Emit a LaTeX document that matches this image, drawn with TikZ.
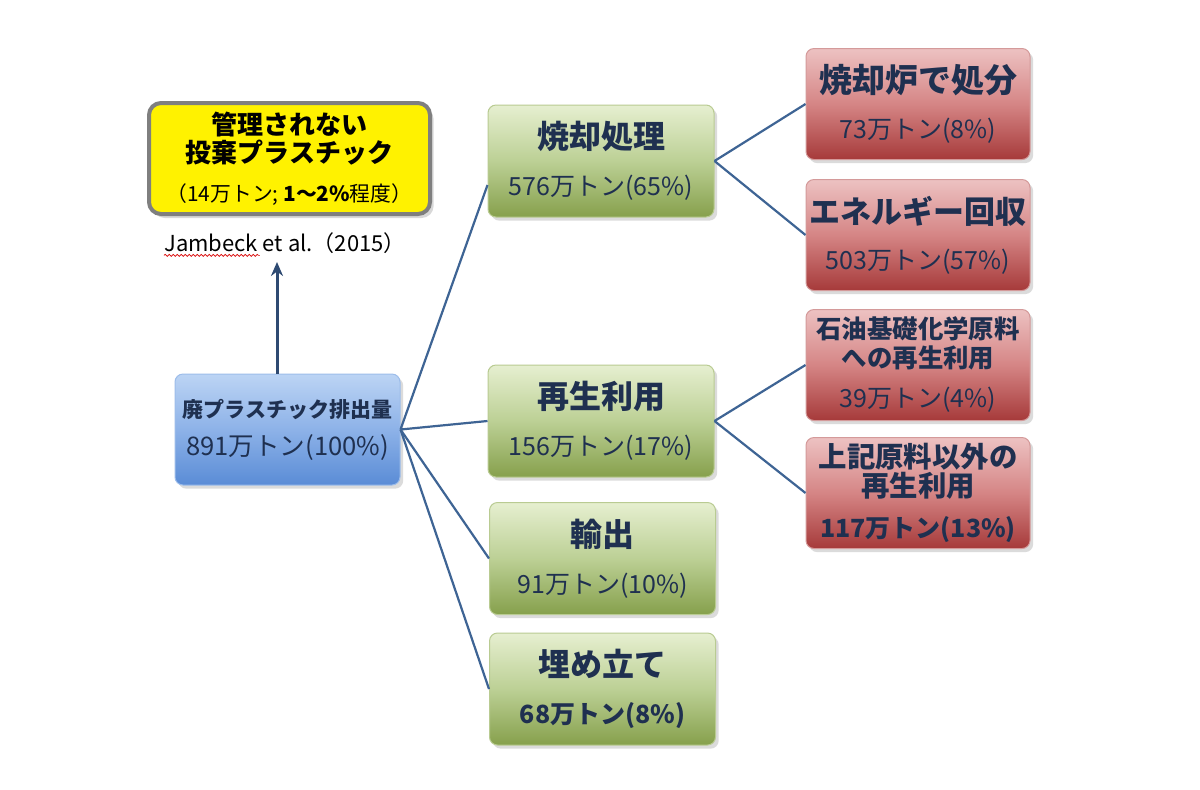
\documentclass[tikz,border=0pt]{standalone}
\usepackage{fontspec}
\setmainfont{Noto Sans CJK JP}
\usetikzlibrary{shadows,arrows.meta,decorations.pathmorphing,calc}
\definecolor{navy}{HTML}{1F3050}
\definecolor{linkc}{HTML}{3E6494}
\definecolor{arrowc}{HTML}{2E4A72}
\definecolor{gtop}{HTML}{E6EFD0}
\definecolor{gmid}{HTML}{BCD095}
\definecolor{gbot}{HTML}{86A04C}
\definecolor{gedge}{HTML}{B9CB92}
\definecolor{rtop}{HTML}{EDC2C2}
\definecolor{rmid}{HTML}{D58585}
\definecolor{rbot}{HTML}{A63A3A}
\definecolor{redge}{HTML}{D49A9A}
\definecolor{btop}{HTML}{BCD4F4}
\definecolor{bmid}{HTML}{8DB2E8}
\definecolor{bbot}{HTML}{5A8CD6}
\definecolor{bedge}{HTML}{9DBDEA}
\definecolor{ygray}{HTML}{7F7F7F}
\tikzset{
  box/.style={rounded corners=4pt, align=center, text=navy, inner sep=0pt,
    drop shadow={shadow xshift=1.6pt, shadow yshift=-1.8pt, opacity=0.28}},
  greenbox/.style={box, minimum width=113pt, minimum height=56pt,
    top color=gtop, bottom color=gbot, middle color=gmid, draw=gedge, line width=0.5pt,
    font=\fontsize{12.5}{23.5}\selectfont},
  redbox/.style={box, minimum width=112pt, minimum height=55.5pt,
    top color=rtop, bottom color=rbot, middle color=rmid, draw=redge, line width=0.5pt,
    font=\fontsize{12.5}{23}\selectfont},
  bluebox/.style={box, minimum width=112.5pt, minimum height=55.5pt,
    top color=btop, bottom color=bbot, middle color=bmid, draw=bedge, line width=0.5pt,
    font=\fontsize{12.8}{19}\selectfont},
  yellowbox/.style={rounded corners=6pt, align=center, text=black, inner sep=0pt,
    fill=yellow, draw=ygray, line width=2pt, minimum width=140.5pt, minimum height=55.5pt,
    drop shadow={shadow xshift=1.8pt, shadow yshift=-2pt, opacity=0.3},
    font=\fontsize{10.4}{14}\selectfont},
  link/.style={draw=linkc, line width=1.1pt},
}
\newcommand{\tbig}{\fontsize{16}{23.5}\selectfont\bfseries}
\begin{document}
\begin{tikzpicture}[x=0.5pt,y=-0.5pt]
\useasboundingbox (0,0) rectangle (1200,789);
\fill[white] (0,0) rectangle (1200,789);

\coordinate (arrowtop) at (277,262);

% boxes
\node[yellowbox] (yel) at (289.5,158.5)
  {{\fontsize{13}{14}\selectfont\bfseries 管理されない}\\{\fontsize{13}{14}\selectfont\bfseries 投棄プラスチック}\\[5.5pt]（14万トン; {\bfseries 1～2\%}程度）};
\node[text=black, font=\fontsize{11}{12}\selectfont, inner sep=0pt] (ref) at (285,243) {Jambeck et al.（2015）};

\node[bluebox] (blue) at (287.5,429.5)
  {{\fontsize{10.5}{19}\selectfont\bfseries 廃プラスチック排出量}\\891万トン(100\%)};

\node[greenbox] (g1) at (601,161) {{\tbig 焼却処理}\\576万トン(65\%)};
\node[greenbox] (g2) at (601,421) {{\tbig 再生利用}\\156万トン(17\%)};
\node[greenbox] (g3) at (602.5,558.5) {{\tbig 輸出}\\91万トン(10\%)};
\node[greenbox] (g4) at (602.5,689) {{\tbig 埋め立て}\\{\bfseries 68万トン(8\%)}};

\node[redbox] (r1) at (918,104) {{\fontsize{16.5}{23}\selectfont\bfseries 焼却炉で処分}\\73万トン(8\%)};
\node[redbox] (r2) at (918,235) {{\fontsize{15.5}{23}\selectfont\bfseries エネルギー回収}\\503万トン(57\%)};
\node[redbox, font=\fontsize{12.5}{14.5}\selectfont] (r3) at (918,365)
  {{\fontsize{12.7}{14.5}\selectfont\bfseries 石油基礎化学原料}\\{\fontsize{12.7}{14.5}\selectfont\bfseries への再生利用}\\[5.5pt]39万トン(4\%)};
\node[redbox, font=\fontsize{12.5}{14.5}\selectfont] (r4) at (918,493)
  {{\fontsize{14.2}{14.5}\selectfont\bfseries 上記原料以外の}\\{\fontsize{14.2}{14.5}\selectfont\bfseries 再生利用}\\[6pt]{\bfseries 117万トン(13\%)}};

% connectors
\draw[link] (blue.east) -- ([yshift=-12pt]g1.west);
\draw[link] (blue.east) -- (g2.west);
\draw[link] (blue.east) -- (g3.west);
\draw[link] (blue.east) -- (g4.west);
\draw[link] (g1.east) -- (r1.west);
\draw[link] (g1.east) -- (r2.west);
\draw[link] (g2.east) -- (r3.west);
\draw[link] (g2.east) -- (r4.west);
\draw[draw=arrowc, line width=1.5pt, -{Stealth[length=7pt,width=6pt]}] (blue.north -| arrowtop) -- (arrowtop);

% spell-check squiggle under "Jambeck"
\draw[red!85!black, line width=0.35pt, decorate, decoration={snake, amplitude=0.5pt, segment length=2pt}]
  ([yshift=-2pt]ref.base west) -- ([yshift=-2pt,xshift=48pt]ref.base west);
\end{tikzpicture}
\end{document}
